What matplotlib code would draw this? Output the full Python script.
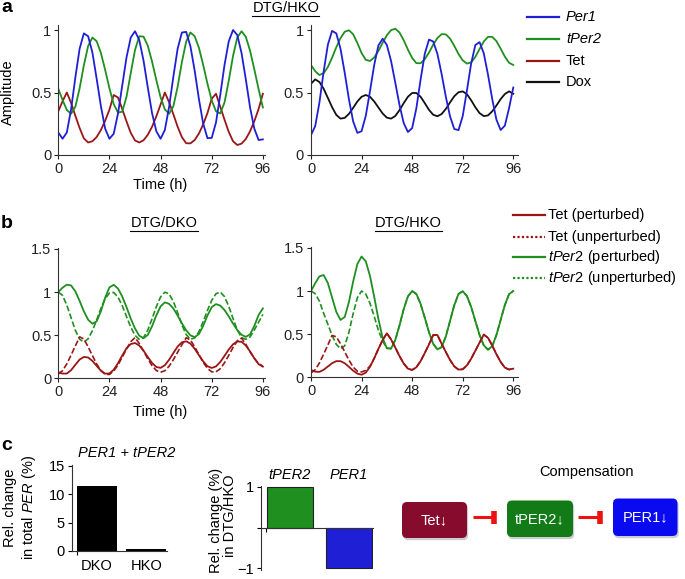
import matplotlib
matplotlib.use("Agg")
import matplotlib.pyplot as plt
from matplotlib.patches import FancyBboxPatch

plt.rcParams['font.family'] = ['Liberation Sans', 'DejaVu Sans']
plt.rcParams['mathtext.fontset'] = 'custom'
plt.rcParams['mathtext.rm'] = 'Liberation Sans'
plt.rcParams['mathtext.it'] = 'Liberation Sans:italic'
plt.rcParams['font.size'] = 10.5

# time (h), one reading every 2 h
time_h = list(range(0, 97, 2))

# a, DTG/HKO (left: unperturbed, right: with Dox)
a1_per1 = [0.18, 0.13, 0.18, 0.365, 0.62, 0.85, 0.973, 0.95, 0.82, 0.61, 0.39, 0.21, 0.13, 0.17, 0.33, 0.555, 0.78,
           0.94, 0.99, 0.92, 0.755, 0.54, 0.335, 0.19, 0.13, 0.20, 0.385, 0.627, 0.85, 0.98, 0.985, 0.87, 0.675,
           0.446, 0.25, 0.135, 0.137, 0.26, 0.48, 0.72, 0.91, 1.0, 0.96, 0.815, 0.605, 0.38, 0.21, 0.12, 0.125]
a1_tper2 = [0.53, 0.44, 0.36, 0.33, 0.386, 0.533, 0.718, 0.872, 0.94, 0.91, 0.816, 0.68, 0.533, 0.407, 0.34, 0.346,
            0.465, 0.655, 0.84, 0.95, 0.947, 0.874, 0.747, 0.6, 0.462, 0.365, 0.33, 0.39, 0.546, 0.743, 0.907, 0.98,
            0.95, 0.857, 0.72, 0.57, 0.437, 0.35, 0.332, 0.42, 0.595, 0.793, 0.94, 0.99, 0.945, 0.834, 0.684, 0.527,
            0.38]
a1_tet = [0.35, 0.43, 0.5, 0.417, 0.314, 0.216, 0.133, 0.1, 0.11, 0.144, 0.2, 0.274, 0.363, 0.48, 0.46, 0.368,
          0.269, 0.177, 0.116, 0.1, 0.118, 0.162, 0.226, 0.309, 0.404, 0.5, 0.422, 0.326, 0.226, 0.143, 0.094, 0.093,
          0.12, 0.172, 0.245, 0.336, 0.45, 0.49, 0.386, 0.283, 0.184, 0.11, 0.08, 0.091, 0.128, 0.19, 0.271, 0.368,
          0.49]
a2_per1 = [0.16, 0.231, 0.42, 0.667, 0.882, 0.993, 0.973, 0.85, 0.658, 0.446, 0.269, 0.177, 0.19, 0.314, 0.511,
           0.721, 0.877, 0.93, 0.88, 0.752, 0.578, 0.4, 0.255, 0.184, 0.215, 0.374, 0.602, 0.81, 0.923, 0.908, 0.808,
           0.647, 0.465, 0.308, 0.208, 0.199, 0.311, 0.516, 0.732, 0.88, 0.903, 0.813, 0.643, 0.448, 0.283, 0.2,
           0.235, 0.375, 0.54]
a2_tper2 = [0.72, 0.67, 0.64, 0.654, 0.704, 0.778, 0.862, 0.935, 0.986, 0.998, 0.966, 0.896, 0.816, 0.761, 0.752,
            0.78, 0.833, 0.898, 0.958, 0.999, 1.01, 0.98, 0.918, 0.843, 0.776, 0.735, 0.734, 0.766, 0.82, 0.883, 0.936,
            0.967, 0.965, 0.931, 0.873, 0.808, 0.757, 0.731, 0.741, 0.785, 0.848, 0.908, 0.945, 0.945, 0.911, 0.851,
            0.787, 0.738, 0.72]
a2_dox = [0.57, 0.605, 0.584, 0.53, 0.457, 0.383, 0.321, 0.291, 0.297, 0.329, 0.377, 0.428, 0.466, 0.48, 0.466,
          0.428, 0.38, 0.332, 0.299, 0.291, 0.312, 0.359, 0.415, 0.466, 0.496, 0.496, 0.466, 0.415, 0.361, 0.322,
          0.31, 0.328, 0.369, 0.421, 0.47, 0.502, 0.509, 0.486, 0.438, 0.382, 0.335, 0.311, 0.317, 0.349, 0.396,
          0.447, 0.488, 0.509, 0.49]

# b, DTG/DKO
b1_tet_pert = [0.07, 0.055, 0.055, 0.094, 0.157, 0.217, 0.248, 0.241, 0.202, 0.144, 0.088, 0.054, 0.056, 0.099,
               0.174, 0.264, 0.348, 0.397, 0.409, 0.38, 0.32, 0.246, 0.178, 0.131, 0.121, 0.152, 0.215, 0.293,
               0.368, 0.417, 0.429, 0.402, 0.342, 0.267, 0.196, 0.14, 0.12, 0.138, 0.189, 0.26, 0.334, 0.394, 0.427,
               0.423, 0.381, 0.311, 0.232, 0.164, 0.135]
b1_tet_unpert = [0.05, 0.0885, 0.167, 0.269, 0.375, 0.48, 0.455, 0.364, 0.264, 0.166, 0.089, 0.044, 0.045, 0.084,
                 0.154, 0.245, 0.339, 0.424, 0.472, 0.403, 0.317, 0.226, 0.146, 0.09, 0.07, 0.088, 0.14, 0.216,
                 0.303, 0.388, 0.47, 0.444, 0.365, 0.274, 0.185, 0.115, 0.075, 0.075, 0.111, 0.18, 0.266, 0.357,
                 0.435, 0.466, 0.394, 0.306, 0.23, 0.17, 0.14]
b1_tper2_pert = [1.0, 1.05, 1.085, 1.076, 1.007, 0.897, 0.776, 0.679, 0.632, 0.66, 0.778, 0.935, 1.054, 1.083,
                 1.041, 0.948, 0.826, 0.692, 0.577, 0.494, 0.465, 0.503, 0.603, 0.729, 0.834, 0.88, 0.863, 0.809,
                 0.728, 0.637, 0.557, 0.498, 0.477, 0.513, 0.609, 0.728, 0.824, 0.86, 0.842, 0.791, 0.717, 0.635,
                 0.559, 0.504, 0.48, 0.51, 0.607, 0.734, 0.81]
b1_tper2_unpert = [1.0, 0.96, 0.847, 0.702, 0.556, 0.452, 0.42, 0.458, 0.551, 0.676, 0.81, 0.923, 0.988, 0.995,
                   0.942, 0.841, 0.716, 0.593, 0.497, 0.451, 0.471, 0.56, 0.689, 0.83, 0.943, 0.998, 0.979, 0.89,
                   0.761, 0.62, 0.507, 0.452, 0.468, 0.54, 0.657, 0.788, 0.903, 0.98, 1.0, 0.947, 0.833, 0.692,
                   0.56, 0.471, 0.452, 0.48, 0.56, 0.65, 0.74]

# b, DTG/HKO
b2_tet_pert = [0.085, 0.065, 0.063, 0.087, 0.125, 0.163, 0.187, 0.187, 0.163, 0.121, 0.077, 0.043, 0.03, 0.054,
               0.122, 0.22, 0.33, 0.432, 0.51, 0.439, 0.345, 0.246, 0.16, 0.1, 0.085, 0.116, 0.187, 0.282, 0.381,
               0.49, 0.49, 0.388, 0.293, 0.2, 0.127, 0.089, 0.093, 0.138, 0.215, 0.309, 0.402, 0.495, 0.457, 0.369,
               0.267, 0.178, 0.112, 0.09, 0.1]
b2_tet_unpert = [0.05, 0.088, 0.166, 0.268, 0.374, 0.485, 0.469, 0.389, 0.295, 0.2, 0.119, 0.071, 0.062, 0.08,
                 0.13, 0.22, 0.33, 0.432, 0.51, 0.439, 0.345, 0.246, 0.16, 0.1, 0.085, 0.116, 0.187, 0.282, 0.381,
                 0.49, 0.49, 0.388, 0.293, 0.2, 0.127, 0.089, 0.093, 0.138, 0.215, 0.309, 0.402, 0.495, 0.457,
                 0.369, 0.267, 0.178, 0.112, 0.09, 0.1]
b2_tper2_pert = [1.0, 1.09, 1.17, 1.185, 1.092, 0.925, 0.758, 0.665, 0.698, 0.872, 1.109, 1.313, 1.4, 1.344, 1.174,
                 0.932, 0.674, 0.455, 0.336, 0.333, 0.432, 0.602, 0.79, 0.938, 0.999, 0.965, 0.851, 0.69, 0.522,
                 0.387, 0.323, 0.35, 0.474, 0.655, 0.835, 0.966, 0.997, 0.942, 0.816, 0.652, 0.49, 0.37, 0.32, 0.36,
                 0.49, 0.664, 0.837, 0.964, 1.0]
b2_tper2_unpert = [1.0, 0.969, 0.882, 0.742, 0.615, 0.486, 0.382, 0.331, 0.365, 0.522, 0.737, 0.922, 1.0, 0.965,
                   0.858, 0.706, 0.543, 0.42, 0.336, 0.333, 0.432, 0.602, 0.79, 0.938, 0.999, 0.965, 0.851, 0.69,
                   0.522, 0.387, 0.323, 0.35, 0.474, 0.655, 0.835, 0.966, 0.997, 0.942, 0.816, 0.652, 0.49, 0.37,
                   0.32, 0.36, 0.49, 0.664, 0.837, 0.964, 1.0]

# c
c1_groups = ['DKO', 'HKO']
c1_values = [11.5, 0.35]
c2_groups = ['tPER2', 'PER1']
c2_values = [1, -1]
boxes = ['Tet\u2193', 'tPER2\u2193', 'PER1\u2193']

BLUE = '#1f1fd6'
GREEN = '#1f8f1f'
RED = '#9a1616'
BLACK = '#111111'
DASH = (0, (3.5, 1.5))
FS = 10.5
W, H = 685, 579


def px_axes(fig, x0, y0, x1, y1):
    # axes from pixel box (y measured from the top)
    return fig.add_axes([x0 / W, 1 - y1 / H, (x1 - x0) / W, (y1 - y0) / H])


def plain_spines(ax):
    for s in ['top', 'right']:
        ax.spines[s].set_visible(False)
    for s in ['left', 'bottom']:
        ax.spines[s].set_linewidth(0.8)
        ax.spines[s].set_color('#333333')


def time_axes(ax, xmax, ymax, yticks, ylabels):
    ax.set_xlim(0, xmax)
    ax.set_ylim(0, ymax)
    ax.set_xticks([0, 24, 48, 72, 96])
    ax.set_yticks(yticks)
    ax.set_yticklabels(ylabels)
    plain_spines(ax)
    ax.tick_params(direction='out', length=3, width=0.8, labelsize=FS, pad=2, colors='#222222')


fig = plt.figure(figsize=(W / 100, H / 100), dpi=100)

# panel a
ax = px_axes(fig, 58.3, 25, 265, 155)
ax.plot(time_h, a1_tet, color=RED, lw=1.3)
ax.plot(time_h, a1_tper2, color=GREEN, lw=1.3)
ax.plot(time_h, a1_per1, color=BLUE, lw=1.3)
time_axes(ax, 97, 1.04, [0, 0.5, 1], ['0', '0.5', '1'])

ax = px_axes(fig, 311, 25, 517.5, 155)
ax.plot(time_h, a2_dox, color=BLACK, lw=1.3)
ax.plot(time_h, a2_tper2, color=GREEN, lw=1.3)
ax.plot(time_h, a2_per1, color=BLUE, lw=1.3)
time_axes(ax, 98, 1.04, [0, 0.5, 1], ['0', '0.5', '1'])

# panel b
ax = px_axes(fig, 58.3, 248, 265, 378.3)
ax.plot(time_h, b1_tper2_unpert, color=GREEN, lw=1.2, ls=DASH)
ax.plot(time_h, b1_tet_unpert, color=RED, lw=1.2, ls=DASH)
ax.plot(time_h, b1_tper2_pert, color=GREEN, lw=1.3)
ax.plot(time_h, b1_tet_pert, color=RED, lw=1.3)
time_axes(ax, 97, 1.51, [0, 0.5, 1, 1.5], ['0', '0.5', '1', '1.5'])

ax = px_axes(fig, 311, 247, 517.5, 377.3)
ax.plot(time_h, b2_tper2_unpert, color=GREEN, lw=1.2, ls=DASH)
ax.plot(time_h, b2_tet_unpert, color=RED, lw=1.2, ls=DASH)
ax.plot(time_h, b2_tper2_pert, color=GREEN, lw=1.3)
ax.plot(time_h, b2_tet_pert, color=RED, lw=1.3)
time_axes(ax, 98, 1.51, [0, 0.5, 1, 1.5], ['0', '0.5', '1', '1.5'])

# panel c, total PER
ax = px_axes(fig, 71.7, 465, 166.7, 551)
ax.bar([0, 1], c1_values, width=0.81, color='black')
ax.set_xlim(-0.505, 1.41)
ax.set_ylim(0, 15.1)
ax.set_yticks([0, 5, 10, 15])
ax.set_xticks([0, 1])
ax.set_xticklabels(c1_groups)
ax.set_xticks([-0.4], minor=True)
plain_spines(ax)
ax.tick_params(axis='y', direction='out', length=3, width=0.8, labelsize=FS, pad=2)
ax.tick_params(axis='x', which='major', length=0, labelsize=FS, pad=6)
ax.tick_params(axis='x', which='minor', direction='out', length=3, width=0.8)

# panel c, relative change
ax = px_axes(fig, 261, 485.5, 372.7, 569.5)
ax.bar([0, 1], c2_values, width=0.79, color=[GREEN, BLUE], edgecolor='#222222', lw=0.8)
ax.set_xlim(-0.49, 1.40)
ax.set_ylim(-1.03, 1.03)
ax.set_yticks([-1, 0, 1])
ax.set_yticklabels(['\u22121', '', '1'])
ax.set_xticks([])
ax.set_xticks([-0.4], minor=True)
ax.spines['bottom'].set_position(('data', 0))
plain_spines(ax)
ax.tick_params(axis='y', direction='out', length=3, width=0.8, labelsize=FS, pad=2)
ax.tick_params(axis='x', which='minor', direction='out', length=3, width=0.8, labelbottom=False)
for i, name in enumerate(c2_groups):
    ax.text(i, 1.12, name, ha='center', va='bottom', fontsize=FS, style='italic')

# overlay in pixel coordinates for labels, legends and the scheme
ov = fig.add_axes([0, 0, 1, 1])
ov.set_xlim(0, W)
ov.set_ylim(H, 0)
ov.axis('off')
ov.patch.set_visible(False)

for letter, y in [('a', 8), ('b', 223), ('c', 445)]:
    ov.text(1, y, letter, fontsize=14, fontweight='bold', va='center', ha='left')


def underlined(x, y, txt, half):
    ov.text(x, y, txt, ha='center', va='center', fontsize=FS)
    ov.plot([x - half, x + half], [y + 7.5, y + 7.5], color='black', lw=0.8)


underlined(286, 8.5, 'DTG/HKO', 33.5)
underlined(164, 223, 'DTG/DKO', 34)
underlined(408.5, 223, 'DTG/HKO', 33.5)

ov.text(8, 92, 'Amplitude', rotation=90, ha='center', va='center', fontsize=FS)
ov.text(160, 185, 'Time (h)', ha='center', va='center', fontsize=FS)
ov.text(160, 412, 'Time (h)', ha='center', va='center', fontsize=FS)

# legend a
leg_a = [(BLUE, 'Per1', 'italic'), (GREEN, 'tPer2', 'italic'), (RED, 'Tet', 'normal'), (BLACK, 'Dox', 'normal')]
for (col, lab, st), y in zip(leg_a, [16.7, 39.3, 61, 81.7]):
    ov.plot([527, 559], [y, y], color=col, lw=1.6)
    ov.text(566, y, lab, va='center', ha='left', fontsize=FS, style=st)

# legend b
leg_b = [(RED, '-', 'Tet (perturbed)'), (RED, ':', 'Tet (unperturbed)'),
         (GREEN, '-', r'$\mathit{tPer2}$ (perturbed)'), (GREEN, ':', r'$\mathit{tPer2}$ (unperturbed)')]
for (col, ls, lab), y in zip(leg_b, [215, 236.7, 256.7, 278.3]):
    style = '-' if ls == '-' else (0, (1, 1))
    ov.plot([513, 545], [y, y], color=col, lw=1.6, ls=style)
    ov.text(548, y, lab, va='center', ha='left', fontsize=FS)

# c labels
ov.text(126.7, 453, 'PER1 + tPER2', ha='center', va='center', fontsize=FS, style='italic')
ov.text(10, 508, 'Rel. change', rotation=90, ha='center', va='center', fontsize=FS)
ov.text(29, 507, r'in total $\mathit{PER}$ (%)', rotation=90, ha='center', va='center', fontsize=FS)
ov.text(216, 520, 'Rel. change (%)', rotation=90, ha='center', va='center', fontsize=FS)
ov.text(230, 516, 'in DTG/HKO', rotation=90, ha='center', va='center', fontsize=FS)

# compensation scheme
ov.text(587, 472, 'Compensation', ha='center', va='center', fontsize=FS)
box_pos = [(402, 502, 65, 36, '#870b2c'), (507, 500.5, 66, 36.5, '#127a16'), (613, 498.5, 64.5, 37.5, '#0a0af0')]
for name, (x0, y0, w, h, col) in zip(boxes, box_pos):
    ov.add_patch(FancyBboxPatch((x0 + 1.2, y0 + 2.2), w, h, boxstyle='round,pad=0,rounding_size=5',
                                fc='#9a9aa8', ec='none', alpha=0.5))
    ov.add_patch(FancyBboxPatch((x0, y0), w, h, boxstyle='round,pad=0,rounding_size=5',
                                fc=col, ec='none'))
    ov.text(x0 + w / 2, y0 + h / 2, name, color='white', ha='center', va='center', fontsize=FS)

for x0, x1 in [(473, 497), (578.5, 603)]:
    ov.plot([x0, x1 - 2], [517, 517], color='#ee1111', lw=2.2, solid_capstyle='butt')
    ov.plot([x1 - 2.5, x1 - 2.5], [510.5, 523.5], color='#ee1111', lw=4, solid_capstyle='butt')

fig.savefig('out.png', dpi=100)
